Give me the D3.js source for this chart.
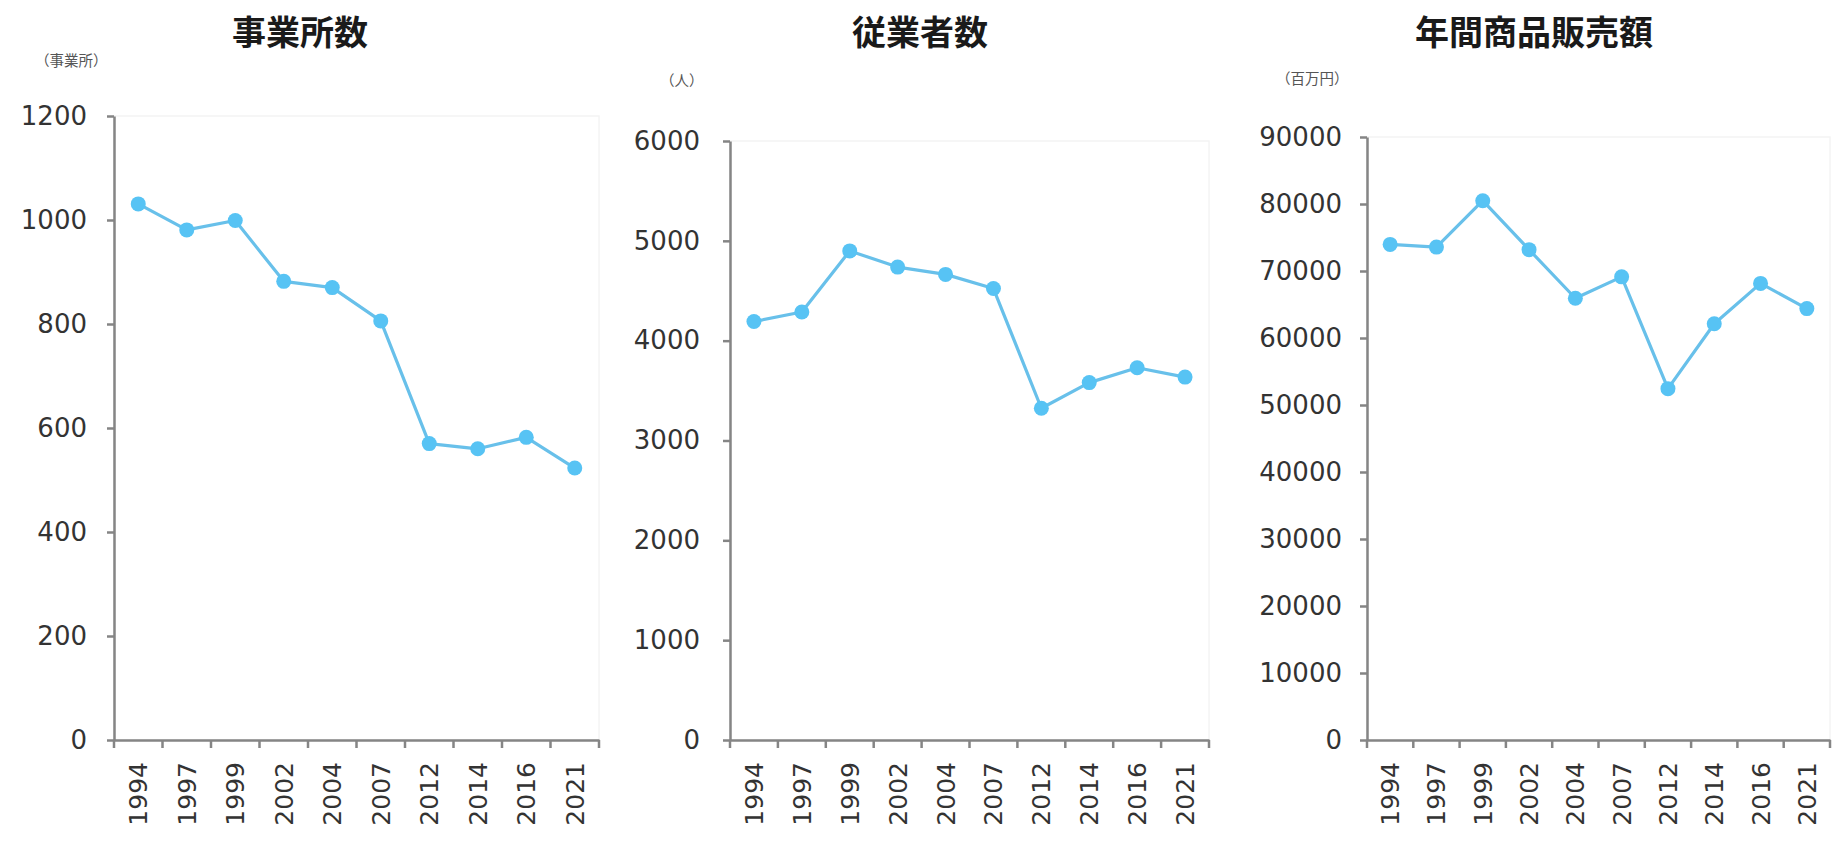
<!DOCTYPE html>
<html>
<head>
<meta charset="utf-8">
<script src="https://cdn.jsdelivr.net/npm/d3@7"></script>
<style>
  html, body { margin: 0; padding: 0; background: #ffffff; }
  svg { display: block; }
</style>
</head>
<body>
<svg id="chart" width="1842" height="844"></svg>
<script>
// ---- data ----
const years = ["1994", "1997", "1999", "2002", "2004", "2007", "2012", "2014", "2016", "2021"];

const titles = ["事業所数", "従業者数", "年間商品販売額"];
const units = ["（事業所）", "（人）", "（百万円）"];

const establishments = [1031, 981, 999, 882, 870, 806, 570, 560, 582, 523];
const employees = [4192, 4287, 4899, 4737, 4664, 4522, 3323, 3580, 3729, 3635];
const sales = [73970, 73570, 80490, 73190, 65930, 69130, 52440, 62120, 68150, 64390];

const ticks1 = [0, 200, 400, 600, 800, 1000, 1200];
const ticks2 = [0, 1000, 2000, 3000, 4000, 5000, 6000];
const ticks3 = [0, 10000, 20000, 30000, 40000, 50000, 60000, 70000, 80000, 90000];

// ---- layout ----
const panels = [
  { title: titles[0], unit: units[0], values: establishments, ticks: ticks1, max: 1200,
    x0: 114, x1: 599, yTop: 116, yBot: 740, titleX: 300, unitX: 35, unitY: 66, pad: 20 },
  { title: titles[1], unit: units[1], values: employees, ticks: ticks2, max: 6000,
    x0: 730, x1: 1209, yTop: 141, yBot: 740, titleX: 920, unitX: 660, unitY: 86, pad: 23 },
  { title: titles[2], unit: units[2], values: sales, ticks: ticks3, max: 90000,
    x0: 1367, x1: 1830, yTop: 137, yBot: 740, titleX: 1534, unitX: 1276, unitY: 84, pad: 18 }
];

const svg = d3.select("#chart");
const axisColor = "#858585";
const lineColor = "#68c0ea";
const dotColor = "#57c3f4";

panels.forEach(p => {
  const g = svg.append("g");

  const x = d3.scaleBand().domain(years).range([p.x0, p.x1]).padding(0);
  const y = d3.scaleLinear().domain([0, p.max]).range([p.yBot, p.yTop]);

  // faint plot-area border
  g.append("rect")
    .attr("x", p.x0).attr("y", p.yTop)
    .attr("width", p.x1 - p.x0).attr("height", p.yBot - p.yTop)
    .attr("fill", "none").attr("stroke", "#f4f4f4").attr("stroke-width", 1.5);

  // title
  g.append("text")
    .attr("x", p.titleX).attr("y", 45)
    .attr("text-anchor", "middle")
    .attr("font-family", "'Noto Sans CJK JP', sans-serif")
    .attr("font-weight", "bold")
    .attr("font-size", 34)
    .attr("fill", "#1a1a1a")
    .text(p.title);

  // unit label
  g.append("text")
    .attr("x", p.unitX).attr("y", p.unitY)
    .attr("font-family", "'Noto Sans CJK JP', sans-serif")
    .attr("font-size", 14.5)
    .attr("fill", "#555")
    .text(p.unit);

  // y axis
  const yAxis = g.append("g")
    .attr("transform", `translate(${p.x0},0)`)
    .call(d3.axisLeft(y).tickValues(p.ticks).tickSize(7).tickPadding(p.pad).tickSizeOuter(0).tickFormat(d3.format("d")));
  yAxis.select(".domain").attr("stroke", axisColor).attr("stroke-width", 2.5);
  yAxis.selectAll(".tick line").attr("stroke", axisColor).attr("stroke-width", 2.5);
  yAxis.selectAll(".tick text")
    .attr("font-family", "'DejaVu Sans', Verdana, sans-serif")
    .attr("font-size", 26)
    .attr("fill", "#333");

  // x axis (labels at band centres)
  const xAxis = g.append("g")
    .attr("transform", `translate(0,${p.yBot})`)
    .call(d3.axisBottom(x).tickSize(0).tickSizeOuter(0));
  xAxis.select(".domain").attr("stroke", axisColor).attr("stroke-width", 2.5);
  xAxis.selectAll(".tick text")
    .attr("font-family", "'DejaVu Sans', Verdana, sans-serif")
    .attr("font-size", 25)
    .attr("fill", "#333")
    .attr("text-anchor", "end")
    .attr("transform", "rotate(-90)")
    .attr("x", -22)
    .attr("y", 0)
    .attr("dy", "0.36em");

  // x tick marks at band boundaries
  const bounds = years.map(d => x(d)).concat([p.x1]);
  g.append("g").selectAll("line")
    .data(bounds).join("line")
    .attr("x1", d => d).attr("x2", d => d)
    .attr("y1", p.yBot).attr("y2", p.yBot + 8)
    .attr("stroke", axisColor).attr("stroke-width", 2.5);

  // line
  const pts = years.map((yr, i) => [x(yr) + x.bandwidth() / 2, y(p.values[i])]);
  g.append("path")
    .attr("d", d3.line()(pts))
    .attr("fill", "none")
    .attr("stroke", lineColor)
    .attr("stroke-width", 3.2)
    .attr("stroke-linejoin", "round");

  g.append("g").selectAll("circle")
    .data(years).join("circle")
    .attr("cx", d => x(d) + x.bandwidth() / 2)
    .attr("cy", (d, i) => y(p.values[i]))
    .attr("r", 7.5)
    .attr("fill", dotColor);
});
</script>
</body>
</html>
